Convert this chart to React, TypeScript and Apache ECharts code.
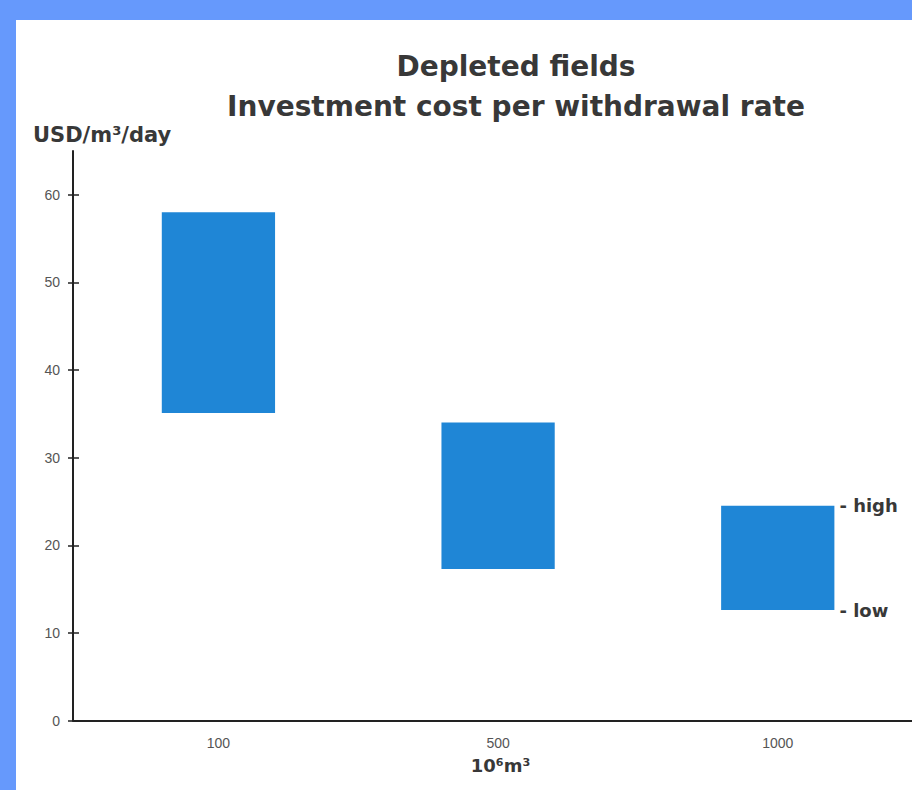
import React, { useEffect, useRef } from "react";
import * as echarts from "echarts";

// Storage size classes (10^6 m3) and the cost range per class (USD/m3/day)
const categories = ["100", "500", "1000"];
const lowValues = [35.1, 17.3, 12.6];
const highValues = [58.0, 34.0, 24.5];
const yTicks = [0, 10, 20, 30, 40, 50, 60];
const rangeLabels = ["- high", "- low"];

const FONT = "'Liberation Sans', Arial, Helvetica, sans-serif";
const HEAVY = "'DejaVu Sans', 'Liberation Sans', Arial, sans-serif";
const BAR_COLOR = "#1f86d6";
const FRAME_COLOR = "#6699fc";
const INK = "#383838";

export default function App() {
  const ref = useRef<HTMLDivElement>(null);

  useEffect(() => {
    if (!ref.current) return;
    const chart = echarts.init(ref.current, null, { renderer: "svg" });
    const data = categories.map((_, i) => [i, lowValues[i], highValues[i]]);

    chart.setOption({
      animation: false,
      backgroundColor: "#ffffff",
      textStyle: { fontFamily: FONT },
      title: {
        text: "Depleted fields\nInvestment cost per withdrawal rate",
        left: 511,
        top: 41,
        textAlign: "center",
        textStyle: {
          fontFamily: HEAVY,
          fontSize: 28,
          fontWeight: "bold",
          color: INK,
          lineHeight: 40,
        },
      },
      grid: { left: 73, right: 0, top: 151, bottom: 69.5 },
      xAxis: {
        type: "value",
        min: -0.52,
        max: 2.48,
        name: "10⁶m³",
        nameLocation: "middle",
        nameGap: 36,
        nameTextStyle: {
          fontFamily: HEAVY,
          fontSize: 18,
          fontWeight: "bold",
          color: INK,
          padding: [0, 0, 0, 16],
        },
        axisLine: { show: true, onZero: false, lineStyle: { color: "#222", width: 2 } },
        axisTick: { show: false },
        splitLine: { show: false },
        axisLabel: {
          customValues: [0, 1, 2],
          formatter: (v: number) => categories[Math.round(v)] ?? "",
          fontFamily: FONT,
          fontSize: 14,
          color: "#555",
          margin: 15,
        },
      },
      yAxis: [
        {
          type: "value",
          min: 0,
          max: 65,
          interval: 10,
          position: "left",
          axisLine: { show: true, onZero: false, lineStyle: { color: "#222", width: 2 } },
          axisTick: {
            show: true,
            inside: true,
            length: 6,
            customValues: yTicks,
            lineStyle: { color: "#222", width: 1.5 },
          },
          axisLabel: {
            customValues: yTicks,
            fontFamily: FONT,
            fontSize: 14,
            color: "#555",
            margin: 13,
          },
          splitLine: { show: false },
        },
        {
          // outer half of the crossing tick marks
          type: "value",
          min: 0,
          max: 65,
          interval: 10,
          position: "left",
          axisLine: { show: false, onZero: false },
          axisTick: {
            show: true,
            inside: false,
            length: 5,
            customValues: yTicks,
            lineStyle: { color: "#222", width: 1.5 },
          },
          axisLabel: { show: false },
          splitLine: { show: false },
        },
      ],
      graphic: [
        { type: "rect", shape: { x: 0, y: 0, width: 912, height: 20 }, style: { fill: FRAME_COLOR }, z: 10 },
        { type: "rect", shape: { x: 0, y: 0, width: 16, height: 790 }, style: { fill: FRAME_COLOR }, z: 10 },
        {
          type: "text",
          x: 33,
          y: 135,
          style: {
            text: "USD/m³/day",
            fontFamily: HEAVY,
            fontSize: 21,
            fontWeight: "bold",
            fill: INK,
            verticalAlign: "middle",
          },
        },
      ],
      series: [
        {
          type: "custom",
          xAxisIndex: 0,
          yAxisIndex: 0,
          data,
          renderItem: (params: any, api: any) => {
            const x = api.value(0);
            const top = api.coord([x, api.value(2)]);
            const bottom = api.coord([x, api.value(1)]);
            const w = api.size([0.405, 0])[0];
            const children: any[] = [
              {
                type: "rect",
                shape: { x: top[0] - w / 2, y: top[1], width: w, height: bottom[1] - top[1] },
                style: { fill: BAR_COLOR },
              },
            ];
            if (params.dataIndex === categories.length - 1) {
              const tx = top[0] + w / 2 + 5;
              [top[1], bottom[1]].forEach((ty, k) => {
                children.push({
                  type: "text",
                  x: tx,
                  y: ty,
                  style: {
                    text: rangeLabels[k],
                    fontFamily: HEAVY,
                    fontSize: 18,
                    fontWeight: "bold",
                    fill: INK,
                    verticalAlign: "middle",
                  },
                });
              });
            }
            return { type: "group", children };
          },
        },
      ],
    });

    return () => chart.dispose();
  }, []);

  return (
    <div
      ref={ref}
      style={{ position: "absolute", left: 0, top: 0, width: 912, height: 790 }}
    />
  );
}
